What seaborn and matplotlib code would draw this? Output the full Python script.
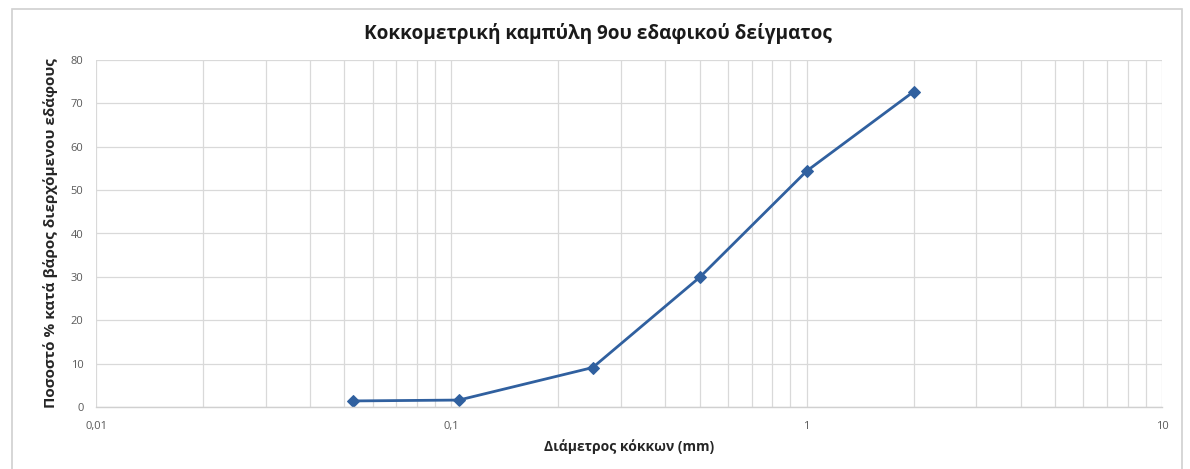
import matplotlib
matplotlib.use("Agg")
import matplotlib.pyplot as plt
import matplotlib.ticker as mticker
from matplotlib.patches import Rectangle
import seaborn as sns
import pandas as pd

# Data
diameter_mm = [0.053, 0.105, 0.25, 0.5, 1.0, 2.0]
passing_pct = [1.4, 1.6, 9.1, 29.9, 54.4, 72.7]
x_ticks = [0.01, 0.1, 1, 10]
x_tick_labels = ["0,01", "0,1", "1", "10"]
y_ticks = [0, 10, 20, 30, 40, 50, 60, 70, 80]

title = "Κοκκομετρική καμπύλη 9ου εδαφικού δείγματος"
xlabel = "Διάμετρος κόκκων (mm)"
ylabel = "Ποσοστό % κατά βάρος διερχόμενου εδάφους"

sns.set_style("white")
plt.rcParams["font.family"] = ["Open Sans", "DejaVu Sans"]

df = pd.DataFrame({"d": diameter_mm, "p": passing_pct})

W, H = 1190, 469
fig = plt.figure(figsize=(W / 100, H / 100), dpi=100)
ax = fig.add_axes([96 / W, 1 - 407 / H, (1162 - 96) / W, (407 - 60) / H])

# chart-area border
fig.patches.append(Rectangle((12 / W, -0.02), (1182 - 12) / W, 1.02 - 9 / H,
                             transform=fig.transFigure, fill=False,
                             edgecolor="#d0d0d0", linewidth=1.2, zorder=0))

line_color = "#30609f"
sns.lineplot(data=df, x="d", y="p", ax=ax, color=line_color, linewidth=2,
             marker="D", markersize=6, markeredgecolor=line_color,
             markerfacecolor=line_color)

ax.set_xscale("log")
ax.set_xlim(0.01, 10)
ax.set_ylim(0, 80)
ax.set_xticks(x_ticks)
ax.set_xticklabels(x_tick_labels)
ax.xaxis.set_minor_locator(mticker.LogLocator(base=10, subs=range(2, 10)))
ax.xaxis.set_minor_formatter(mticker.NullFormatter())
ax.set_yticks(y_ticks)

grid_c = "#d9d9d9"
ax.grid(True, which="major", axis="both", color=grid_c, linewidth=0.9)
ax.grid(True, which="minor", axis="x", color=grid_c, linewidth=0.9)
ax.set_axisbelow(True)

for s in ["top", "right", "left"]:
    ax.spines[s].set_visible(False)
ax.spines["bottom"].set_color("#d0d0d0")
ax.spines["bottom"].set_linewidth(1.0)

ax.tick_params(axis="both", which="both", length=0, labelsize=8,
               labelcolor="#595959")
ax.tick_params(axis="x", pad=10)
ax.tick_params(axis="y", pad=9)

ax.set_xlabel(xlabel, fontsize=10, fontweight="bold", color="#262626", labelpad=5)
ax.set_ylabel(ylabel, fontsize=11, fontweight="bold", color="#262626", labelpad=9)

fig.text(598 / W, 1 - 33 / H, title, ha="center", va="center",
         fontsize=13.7, fontweight="bold", color="#1a1a1a")

fig.savefig("out.png", dpi=100)
